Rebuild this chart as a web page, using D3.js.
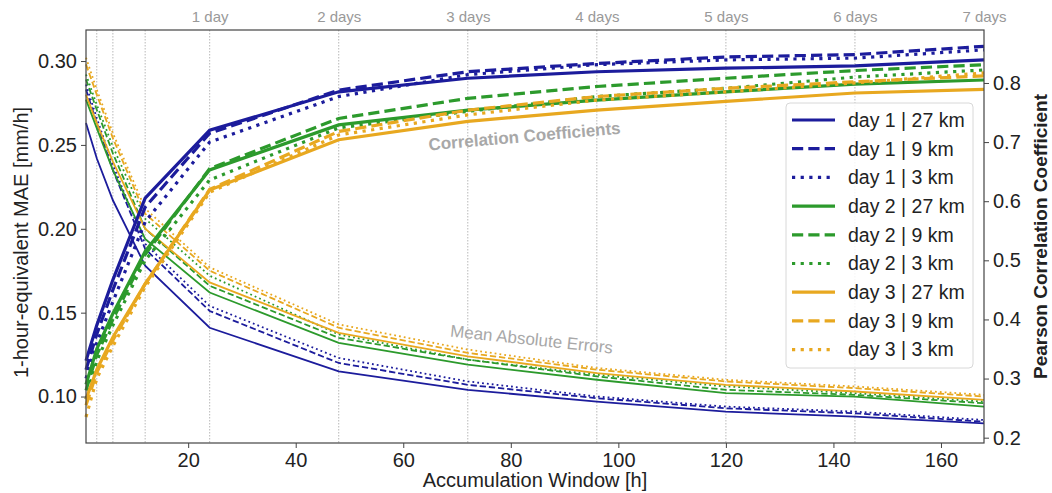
<!DOCTYPE html>
<html>
<head>
<meta charset="utf-8">
<script src="https://cdn.jsdelivr.net/npm/d3@7"></script>
<style>
  body { margin: 0; background: #fff; }
  svg text { font-family: "Liberation Sans", Arial, sans-serif; }
</style>
</head>
<body>
<div id="chart"></div>
<script>
// accumulation windows [h]
var windowHours = [1, 3, 6, 12, 24, 48, 72, 96, 120, 144, 168];
var gridHours = [3, 6, 12, 24, 48, 72, 96, 120, 144];
var dayTicks = [24, 48, 72, 96, 120, 144, 168];
var dayLabels = ["1 day", "2 days", "3 days", "4 days", "5 days", "6 days", "7 days"];
var maeTicks = [0.10, 0.15, 0.20, 0.25, 0.30];
var corrTicks = [0.2, 0.3, 0.4, 0.5, 0.6, 0.7, 0.8];
var xTicks = [20, 40, 60, 80, 100, 120, 140, 160];

// 1-hour-equivalent MAE [mm/h]
var mae_d1_27 = [0.263, 0.242, 0.217, 0.178, 0.141, 0.115, 0.104, 0.097, 0.091, 0.088, 0.084];
var mae_d1_9  = [0.283, 0.263, 0.235, 0.188, 0.151, 0.120, 0.107, 0.099, 0.093, 0.090, 0.085];
var mae_d1_3  = [0.286, 0.266, 0.238, 0.191, 0.154, 0.123, 0.109, 0.100, 0.094, 0.091, 0.086];
var mae_d2_27 = [0.277, 0.260, 0.235, 0.194, 0.162, 0.132, 0.119, 0.110, 0.102, 0.100, 0.094];
var mae_d2_9  = [0.289, 0.271, 0.245, 0.200, 0.166, 0.135, 0.122, 0.112, 0.104, 0.101, 0.096];
var mae_d2_3  = [0.292, 0.274, 0.249, 0.206, 0.172, 0.137, 0.122, 0.113, 0.106, 0.102, 0.097];
var mae_d3_27 = [0.280, 0.263, 0.240, 0.200, 0.168, 0.138, 0.124, 0.114, 0.107, 0.103, 0.098];
var mae_d3_9  = [0.298, 0.280, 0.254, 0.209, 0.175, 0.141, 0.126, 0.116, 0.109, 0.105, 0.100];
var mae_d3_3  = [0.302, 0.283, 0.257, 0.212, 0.177, 0.143, 0.128, 0.117, 0.110, 0.106, 0.101];

// Pearson correlation coefficients
var cor_d1_27 = [0.330, 0.390, 0.467, 0.605, 0.720, 0.785, 0.808, 0.819, 0.825, 0.829, 0.839];
var cor_d1_9  = [0.315, 0.375, 0.450, 0.590, 0.715, 0.788, 0.819, 0.833, 0.844, 0.848, 0.862];
var cor_d1_3  = [0.300, 0.360, 0.430, 0.565, 0.700, 0.777, 0.814, 0.831, 0.839, 0.842, 0.856];
var cor_d2_27 = [0.290, 0.350, 0.410, 0.515, 0.653, 0.729, 0.754, 0.771, 0.785, 0.798, 0.805];
var cor_d2_9  = [0.280, 0.340, 0.400, 0.510, 0.655, 0.740, 0.774, 0.794, 0.808, 0.821, 0.831];
var cor_d2_3  = [0.265, 0.330, 0.390, 0.500, 0.636, 0.724, 0.752, 0.777, 0.791, 0.810, 0.822];
var cor_d3_27 = [0.265, 0.315, 0.370, 0.460, 0.619, 0.704, 0.735, 0.754, 0.769, 0.783, 0.789];
var cor_d3_9  = [0.255, 0.310, 0.365, 0.460, 0.620, 0.718, 0.754, 0.777, 0.791, 0.802, 0.812];
var cor_d3_3  = [0.235, 0.300, 0.355, 0.455, 0.615, 0.712, 0.746, 0.771, 0.785, 0.800, 0.817];

var seriesLabels = ["day 1 | 27 km", "day 1 | 9 km", "day 1 | 3 km",
                    "day 2 | 27 km", "day 2 | 9 km", "day 2 | 3 km",
                    "day 3 | 27 km", "day 3 | 9 km", "day 3 | 3 km"];

var dayColors = ["#1c1c9c", "#2c9a2c", "#e8a820"];
var resStyles = ["solid", "dashed", "dotted"];

var series = [
  { mae: mae_d1_27, cor: cor_d1_27 }, { mae: mae_d1_9, cor: cor_d1_9 }, { mae: mae_d1_3, cor: cor_d1_3 },
  { mae: mae_d2_27, cor: cor_d2_27 }, { mae: mae_d2_9, cor: cor_d2_9 }, { mae: mae_d2_3, cor: cor_d2_3 },
  { mae: mae_d3_27, cor: cor_d3_27 }, { mae: mae_d3_9, cor: cor_d3_9 }, { mae: mae_d3_3, cor: cor_d3_3 }
];
series.forEach(function(s, i) {
  s.label = seriesLabels[i];
  s.color = dayColors[Math.floor(i / 3)];
  s.style = resStyles[i % 3];
});

var width = 1052, height = 493;
var margin = { left: 86, right: 68, top: 30, bottom: 50 };

var x = d3.scaleLinear().domain([1, 168]).range([margin.left, width - margin.right]);
var yMae = d3.scaleLinear().domain([0.0723, 0.3185]).range([height - margin.bottom, margin.top]);
var yCor = d3.scaleLinear().domain([0.191, 0.8896]).range([height - margin.bottom, margin.top]);

var svg = d3.select("#chart").append("svg")
  .attr("width", width)
  .attr("height", height);

// dotted vertical guides
svg.append("g").selectAll("line")
  .data(gridHours)
  .enter().append("line")
  .attr("x1", d => x(d)).attr("x2", d => x(d))
  .attr("y1", margin.top).attr("y2", height - margin.bottom)
  .style("stroke", "#b8b8b8")
  .style("stroke-width", 1)
  .style("stroke-dasharray", "1.5,1.5");

function dash(style, lw) {
  if (style === "dashed") return (lw * 3.5) + "," + (lw * 1.6);
  if (style === "dotted") return lw + "," + (lw * 1.7);
  return null;
}

var maeLine = d3.line().x((d, i) => x(windowHours[i])).y(d => yMae(d));
var corLine = d3.line().x((d, i) => x(windowHours[i])).y(d => yCor(d));

// MAE (thin lines)
svg.append("g").selectAll("path")
  .data(series)
  .enter().append("path")
  .attr("d", d => maeLine(d.mae))
  .style("fill", "none")
  .style("stroke", d => d.color)
  .style("stroke-width", 1.8)
  .style("stroke-dasharray", d => dash(d.style, 1.8));

// correlations (thick lines)
svg.append("g").selectAll("path")
  .data(series)
  .enter().append("path")
  .attr("d", d => corLine(d.cor))
  .style("fill", "none")
  .style("stroke", d => d.color)
  .style("stroke-width", 3.2)
  .style("stroke-dasharray", d => dash(d.style, 3.2));

// axes
var axisFont = "20px";
var gx = svg.append("g")
  .attr("transform", `translate(0, ${height - margin.bottom})`)
  .call(d3.axisBottom(x).tickValues(xTicks).tickSize(5).tickPadding(5));
var gl = svg.append("g")
  .attr("transform", `translate(${margin.left}, 0)`)
  .call(d3.axisLeft(yMae).tickValues(maeTicks).tickFormat(d3.format(".2f")).tickSize(5).tickPadding(4));
var gr = svg.append("g")
  .attr("transform", `translate(${width - margin.right}, 0)`)
  .call(d3.axisRight(yCor).tickValues(corrTicks).tickFormat(d3.format(".1f")).tickSize(5).tickPadding(4));
var gt = svg.append("g")
  .attr("transform", `translate(0, ${margin.top})`)
  .call(d3.axisTop(x).tickValues(dayTicks).tickFormat((d, i) => dayLabels[i]).tickSize(0).tickPadding(8));

[gx, gl, gr].forEach(function(g) {
  g.selectAll("text").style("font-size", axisFont).style("fill", "#222");
  g.selectAll("line").style("stroke", "#444");
  g.select(".domain").remove();
});
gt.select(".domain").remove();
gt.selectAll("text").style("font-size", "15px").style("fill", "#999");

// frame
svg.append("rect")
  .attr("x", margin.left).attr("y", margin.top)
  .attr("width", width - margin.left - margin.right)
  .attr("height", height - margin.top - margin.bottom)
  .style("fill", "none")
  .style("stroke", "#444")
  .style("stroke-width", 1.2);

// axis titles
svg.append("text")
  .attr("x", (margin.left + width - margin.right) / 2)
  .attr("y", height - 6)
  .attr("text-anchor", "middle")
  .style("font-size", "20px")
  .style("fill", "#222")
  .text("Accumulation Window [h]");

var midY = (margin.top + height - margin.bottom) / 2;
svg.append("text")
  .attr("transform", `translate(28, ${midY + 6}) rotate(-90)`)
  .attr("text-anchor", "middle")
  .style("font-size", "20px")
  .style("fill", "#222")
  .text("1-hour-equivalent MAE [mm/h]");

svg.append("text")
  .attr("transform", `translate(1047, ${midY}) rotate(-90)`)
  .attr("text-anchor", "middle")
  .style("font-size", "19px")
  .style("font-weight", "bold")
  .style("fill", "#222")
  .text("Pearson Correlation Coefficient");

// in-plot annotations
svg.append("text")
  .attr("transform", "translate(525, 142) rotate(-5)")
  .attr("text-anchor", "middle")
  .style("font-size", "17px")
  .style("font-weight", "bold")
  .style("fill", "#a8a8a8")
  .text("Correlation Coefficients");

svg.append("text")
  .attr("transform", "translate(531, 345) rotate(6)")
  .attr("text-anchor", "middle")
  .style("font-size", "17px")
  .style("fill", "#a8a8a8")
  .text("Mean Absolute Errors");

// legend
var legend = svg.append("g").attr("transform", "translate(786, 103)");
legend.append("rect")
  .attr("width", 187).attr("height", 265)
  .attr("rx", 4)
  .style("fill", "#fff")
  .style("fill-opacity", 0.85)
  .style("stroke", "#d8d8d8");

var rows = legend.selectAll(".row")
  .data(series)
  .enter().append("g")
  .attr("class", "row")
  .attr("transform", (d, i) => `translate(0, ${17 + i * 28.7})`);

rows.append("line")
  .attr("x1", 6).attr("x2", 49)
  .style("stroke", d => d.color)
  .style("stroke-width", 3.2)
  .style("stroke-dasharray", d => dash(d.style, 3.2));

rows.append("text")
  .attr("x", 62)
  .attr("dy", "0.35em")
  .style("font-size", "19.5px")
  .style("fill", "#222")
  .text(d => d.label);
</script>
</body>
</html>
